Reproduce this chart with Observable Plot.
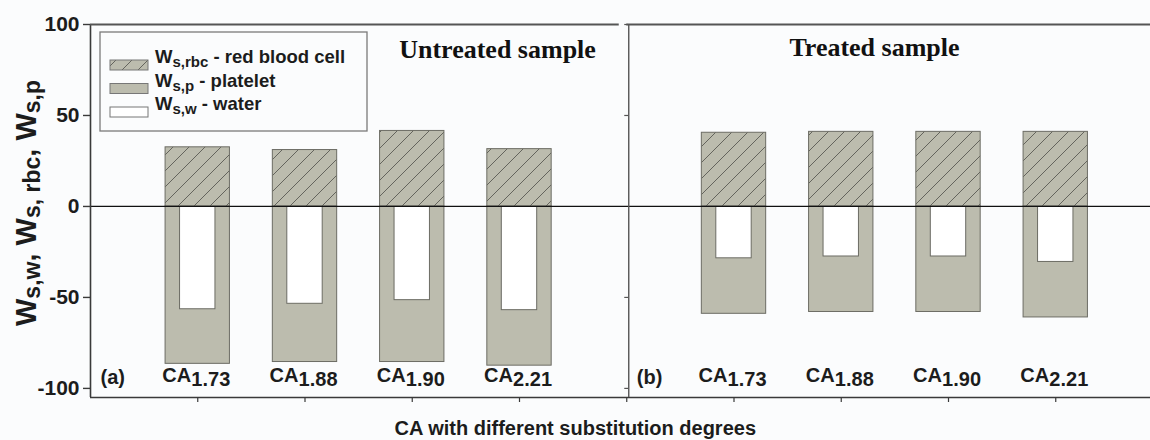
<!DOCTYPE html>
<html><head><meta charset="utf-8">
<script src="https://cdn.jsdelivr.net/npm/d3@7"></script>
<script src="https://cdn.jsdelivr.net/npm/@observablehq/plot@0.6"></script>
<style>
html,body{margin:0;padding:0;background:#fbfcfd;}
#chart svg{display:block;}
</style></head><body><div id="chart"></div>
<script>
// ---- data ----
const categories = ["1.73", "1.88", "1.90", "2.21"];
const untreatedRbc = [32.5, 31, 41.5, 31.5];
const untreatedWater = [-56.5, -53.5, -51.5, -57];
const untreatedPlatelet = [-86.5, -85.5, -85.5, -87.5];
const treatedRbc = [40.5, 41, 41, 41];
const treatedWater = [-28.5, -27.5, -27.5, -30.5];
const treatedPlatelet = [-59, -58, -58, -61];
const yTicks = [-100, -50, 0, 50, 100];
const panelLabels = ["(a)", "(b)"];
const panelTitles = ["Untreated sample", "Treated sample"];
const legendNames = ["red blood cell", "platelet", "water"];
const legendSubs = ["s,rbc", "s,p", "s,w"];
const xTitle = "CA with different substitution degrees";

// ---- table ----
const rows = [];
categories.forEach((c, i) => rows.push({panel: 0, cat: c, slot: i + 1, rbc: untreatedRbc[i], water: untreatedWater[i], platelet: untreatedPlatelet[i]}));
categories.forEach((c, i) => rows.push({panel: 1, cat: c, slot: i + 6, rbc: treatedRbc[i], water: treatedWater[i], platelet: treatedPlatelet[i]}));

const PLATELET = "#bcbcae", EDGE = "#6c6c64", AX = "#3a3a3a";
const half = 0.3, wHalf = 0.165;

const plot = Plot.plot({
  width: 1150, height: 440,
  marginLeft: 90, marginRight: 0, marginTop: 24, marginBottom: 43,
  style: {fontFamily: "'Liberation Sans', Arial, sans-serif", color: "#1c1c1c", background: "transparent", overflow: "visible"},
  x: {domain: [0, 10], range: [90, 1162.5], axis: null},
  y: {domain: [-105, 100], axis: null},
  marks: [
    // platelet (full negative bar)
    Plot.rect(rows, {x1: d => d.slot - half, x2: d => d.slot + half, y1: () => 0, y2: "platelet", fill: PLATELET, stroke: EDGE, strokeWidth: 1}),
    // water (inner white bar)
    Plot.rect(rows, {x1: d => d.slot - wHalf, x2: d => d.slot + wHalf, y1: () => 0, y2: "water", fill: "#ffffff", stroke: EDGE, strokeWidth: 1}),
    // red blood cell (hatched positive bar)
    Plot.rect(rows, {x1: d => d.slot - half, x2: d => d.slot + half, y1: () => 0, y2: "rbc", fill: "url(#hatch)", stroke: EDGE, strokeWidth: 1}),
    // zero line
    Plot.ruleY([0], {x1: 0, x2: 10, stroke: "#111", strokeWidth: 1.3}),
    // frame lines
    Plot.ruleX([0], {y1: -105, y2: 100, stroke: AX, strokeWidth: 1.6}),
    Plot.ruleY([-105], {x1: 0, x2: 10, stroke: AX, strokeWidth: 1.6}),
    Plot.ruleY([100], {x1: 0, x2: 4.93, stroke: "#555", strokeWidth: 2}),
    Plot.ruleY([100], {x1: 5, x2: 10, stroke: "#555", strokeWidth: 2}),
    Plot.ruleX([5], {y1: -105, y2: 100, dx: 2, stroke: "#555", strokeWidth: 1.4}),
    Plot.ruleY(yTicks.filter(v => v !== 0), {x1: 5, x2: 5, insetLeft: -4, dx: 2, stroke: "#555", strokeWidth: 1.2}),
    // axes
    Plot.axisY(yTicks, {anchor: "left", tickSize: 7, tickPadding: 4, fontSize: 21, fontWeight: "bold", tickFormat: d => String(d), stroke: AX, strokeWidth: 1.4, label: null}),
    Plot.axisX([1, 2, 3, 4, 5, 6, 7, 8, 9], {anchor: "bottom", tickSize: 5, tickFormat: () => "", stroke: AX, strokeWidth: 1.2, label: null}),
    // category labels
    Plot.text(rows, {x: d => d.slot - half - 0.03, frameAnchor: "bottom", dy: -16, lineAnchor: "bottom", textAnchor: "start", text: () => "CA", fontSize: 20, fontWeight: "bold", fill: "#1c1c1c"}),
    Plot.text(rows, {x: d => d.slot - half - 0.03, frameAnchor: "bottom", dy: -12, dx: 29, lineAnchor: "bottom", textAnchor: "start", text: "cat", fontSize: 20, fontWeight: "bold", fill: "#1c1c1c"}),
    // panel letters
    Plot.text(panelLabels, {x: (d, i) => i * 5, frameAnchor: "bottom", dy: -14, dx: 10, lineAnchor: "bottom", textAnchor: "start", text: d => d, fontSize: 20, fontWeight: "bold", fill: "#1c1c1c"}),
    // panel titles
    Plot.text([panelTitles[0]], {x: () => 3.795, frameAnchor: "top", dy: 33, lineAnchor: "bottom", text: d => d, fontSize: 26, fontWeight: "bold", fontFamily: "'Liberation Serif', 'Times New Roman', serif", fill: "#111"}),
    Plot.text([panelTitles[1]], {x: () => 7.31, frameAnchor: "top", dy: 31, lineAnchor: "bottom", text: d => d, fontSize: 26, fontWeight: "bold", fontFamily: "'Liberation Serif', 'Times New Roman', serif", fill: "#111"}),
    // x title
    Plot.text([xTitle], {x: () => 4.52, frameAnchor: "bottom", dy: 37, lineAnchor: "bottom", text: d => d, fontSize: 20, fontWeight: "bold", fill: "#1c1c1c"})
  ]
});

const svg = d3.select(plot);
const defs = svg.insert("defs", ":first-child");
const pat = defs.append("pattern").attr("id", "hatch").attr("patternUnits", "userSpaceOnUse").attr("width", 16).attr("height", 16);
pat.append("rect").attr("width", 16).attr("height", 16).attr("fill", PLATELET);
pat.append("path").attr("d", "M0,16L16,0M-4,4L4,-4M12,20L20,12").attr("stroke", "#5a5a54").attr("stroke-width", 0.9);

// legend
const lg = svg.append("g").attr("font-family", "'Liberation Sans', Arial, sans-serif").attr("font-weight", "bold").attr("fill", "#1c1c1c").attr("text-anchor", "start");
lg.append("rect").attr("x", 100).attr("y", 32).attr("width", 267).attr("height", 99).attr("fill", "#fbfcfd").attr("stroke", "#7a7a7a").attr("stroke-width", 1.3);
const swFill = ["url(#hatch)", PLATELET, "#ffffff"];
legendNames.forEach((name, i) => {
  const base = 63 + i * 23.5;
  lg.append("rect").attr("x", 110).attr("y", base - 3).attr("width", 38).attr("height", 10).attr("fill", swFill[i]).attr("stroke", "#777").attr("stroke-width", 1);
  const t = lg.append("text").attr("x", 155).attr("y", base).attr("font-size", 18.5).attr("text-anchor", "start");
  t.append("tspan").text("W");
  t.append("tspan").attr("font-size", 15).attr("dy", 4).text(legendSubs[i]);
  t.append("tspan").attr("dy", -4).text(" - " + name);
});

// y-axis title with subscripts
const yt = svg.append("text").attr("transform", "translate(36,203) rotate(-90)").attr("text-anchor", "middle")
  .attr("font-family", "'Liberation Sans', Arial, sans-serif").attr("font-weight", "bold").attr("font-size", 29).attr("fill", "#1c1c1c");
const parts = [["W", 0], ["s,w", 1], [", ", 0], ["W", 0], ["s, rbc", 1], [", ", 0], ["W", 0], ["s,p", 1]];
let prevSub = 0;
parts.forEach(([txt, sub]) => {
  const ts = yt.append("tspan").text(txt);
  if (sub) ts.attr("font-size", 23);
  const dy = (sub - prevSub) * 4;
  if (dy) ts.attr("dy", dy);
  prevSub = sub;
});

document.getElementById("chart").appendChild(plot);
</script>
</body></html>
